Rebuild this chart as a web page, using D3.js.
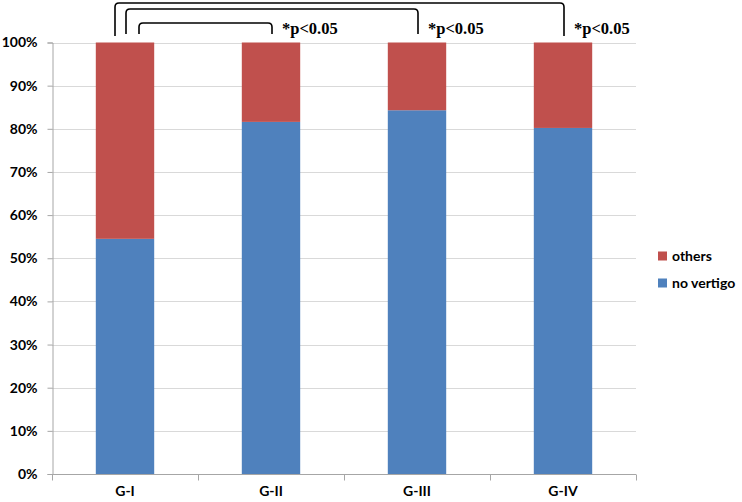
<!DOCTYPE html>
<html>
<head>
<meta charset="utf-8">
<script src="https://cdn.jsdelivr.net/npm/d3@7"></script>
<style>
  body { margin: 0; background: #fff; }
  svg { display: block; }
</style>
</head>
<body>
<div id="chart"></div>
<script>
// data
var categories = ["G-I", "G-II", "G-III", "G-IV"];
var noVertigo = [54.5, 81.6, 84.3, 80.2];
var others = [45.5, 18.4, 15.7, 19.8];
var seriesNames = ["no vertigo", "others"];
var seriesColors = ["#4f81bd", "#c0504d"];
var yTicks = [0, 10, 20, 30, 40, 50, 60, 70, 80, 90, 100];
// significance brackets, all compared against G-I
var compareTo = ["G-II", "G-III", "G-IV"];
var pLabels = ["*p<0.05", "*p<0.05", "*p<0.05"];

var width = 742;
var height = 502;

var svg = d3.select("#chart").append("svg")
  .attr("width", width)
  .attr("height", height);

var x = d3.scaleBand().domain(categories).range([52, 636])
  .paddingInner(0.6).paddingOuter(0.3);
var y = d3.scaleLinear().domain([0, 100]).range([474, 42.5]);

// gridlines
svg.append("g")
  .selectAll("line")
  .data(yTicks)
  .enter().append("line")
  .attr("x1", 52).attr("x2", 636)
  .attr("y1", function(d) { return Math.round(y(d)) + 0.5; })
  .attr("y2", function(d) { return Math.round(y(d)) + 0.5; })
  .attr("stroke", "#d9d9d9");

// stacked bars
var rows = categories.map(function(c, i) {
  return { cat: c, "no vertigo": noVertigo[i], "others": others[i] };
});
var stack = d3.stack().keys(seriesNames)(rows);

svg.append("g")
  .selectAll("g")
  .data(stack)
  .enter().append("g")
  .attr("fill", function(d, i) { return seriesColors[i]; })
  .selectAll("rect")
  .data(function(d) { return d; })
  .enter().append("rect")
  .attr("x", function(d) { return x(d.data.cat); })
  .attr("width", x.bandwidth())
  .attr("y", function(d) { return y(d[1]); })
  .attr("height", function(d) { return y(d[0]) - y(d[1]); });

// y axis
var yAxis = svg.append("g")
  .attr("transform", "translate(52.5,0)")
  .call(d3.axisLeft(y).tickValues(yTicks).tickSize(5).tickPadding(10)
    .tickFormat(function(d) { return d + "%"; }));
yAxis.select(".domain").attr("stroke", "#a6a6a6");
yAxis.selectAll(".tick line").attr("stroke", "#a6a6a6");
yAxis.selectAll("text")
  .attr("font-family", "Lato, 'Open Sans', sans-serif")
  .attr("font-weight", "bold")
  .attr("font-size", 14)
  .attr("fill", "#000");

// x axis with ticks between categories
var xAxis = svg.append("g")
  .attr("transform", "translate(0,474.5)");
xAxis.append("line")
  .attr("x1", 52).attr("x2", 636)
  .attr("stroke", "#a6a6a6");
xAxis.selectAll(".sep")
  .data(d3.range(categories.length + 1))
  .enter().append("line")
  .attr("class", "sep")
  .attr("x1", function(i) { return Math.round(52 + i * x.step()) + 0.5; })
  .attr("x2", function(i) { return Math.round(52 + i * x.step()) + 0.5; })
  .attr("y1", 0).attr("y2", 6)
  .attr("stroke", "#a6a6a6");
xAxis.selectAll("text")
  .data(categories)
  .enter().append("text")
  .attr("x", function(d) { return x(d) + x.bandwidth() / 2; })
  .attr("y", 21)
  .attr("text-anchor", "middle")
  .attr("font-family", "Lato, 'Open Sans', sans-serif")
  .attr("font-weight", "bold")
  .attr("font-size", 14)
  .text(function(d) { return d; });

// legend
var legend = svg.append("g")
  .selectAll("g")
  .data(["others", "no vertigo"])
  .enter().append("g")
  .attr("transform", function(d, i) { return "translate(658," + (256 + i * 27) + ")"; });
legend.append("rect")
  .attr("x", 0).attr("y", -4.5)
  .attr("width", 9).attr("height", 9)
  .attr("fill", function(d) { return seriesColors[seriesNames.indexOf(d)]; });
legend.append("text")
  .attr("x", 14).attr("y", 5)
  .attr("font-family", "Lato, 'Open Sans', sans-serif")
  .attr("font-weight", "bold")
  .attr("font-size", 14)
  .text(function(d) { return d; });

// significance brackets
var leftOffset = [14, 1, -10];
var topY = [23, 9, 3];
var bottomY = [34, 34, 36];
var cx = function(c) { return x(c) + x.bandwidth() / 2; };

var br = svg.append("g")
  .selectAll("g")
  .data(compareTo)
  .enter().append("g");

br.append("path")
  .attr("fill", "none")
  .attr("stroke", "#000")
  .attr("stroke-width", 1.6)
  .attr("d", function(d, i) {
    var x0 = cx("G-I") + leftOffset[i];
    var x1 = cx(d) + 1;
    var r = 4;
    return "M" + x0 + "," + bottomY[i] +
      "L" + x0 + "," + (topY[i] + r) +
      "Q" + x0 + "," + topY[i] + " " + (x0 + r) + "," + topY[i] +
      "L" + (x1 - r) + "," + topY[i] +
      "Q" + x1 + "," + topY[i] + " " + x1 + "," + (topY[i] + r) +
      "L" + x1 + "," + bottomY[i];
  });

br.append("text")
  .attr("x", function(d) { return cx(d) + 11; })
  .attr("y", 34)
  .attr("font-family", "'Liberation Serif', 'Times New Roman', serif")
  .attr("font-weight", "bold")
  .attr("font-size", 16.5)
  .text(function(d, i) { return pLabels[i]; });
</script>
</body>
</html>
